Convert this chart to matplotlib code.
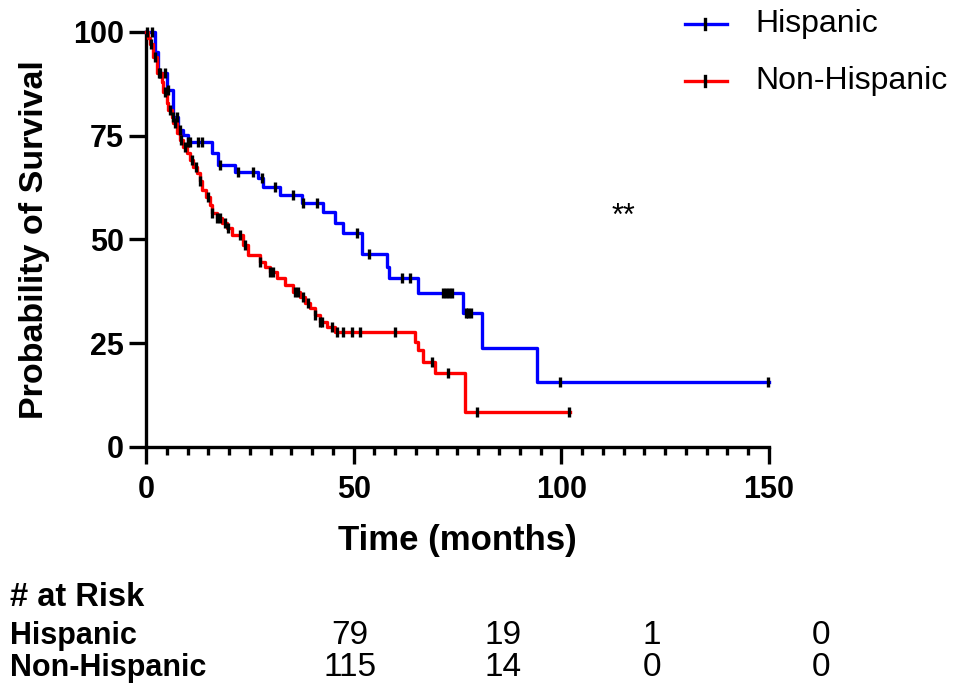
import numpy as np
import matplotlib.pyplot as plt
from matplotlib.lines import Line2D

plt.rcParams['font.family'] = ['Liberation Sans', 'DejaVu Sans']

# Kaplan-Meier step data (time in months, survival in %)
hisp_t = [0, 2.2, 2.9, 5.1, 6.6, 7.7, 8.9, 10.0, 15.8, 17.3, 21.4, 27.0, 28.2, 32.3,
          37.5, 42.6, 45.5, 47.5, 52.0, 58.0, 58.5, 65.5, 76.3, 80.9, 94.1]
hisp_s = [100, 95.3, 90.1, 86, 79.5, 76.4, 75.2, 73.6, 70.8, 68, 66.3, 64.8, 62.7, 60.7,
          58.8, 56.7, 54, 51.6, 46.5, 43.4, 40.7, 37.1, 32.3, 23.9, 15.7]
hisp_end = 150
hisp_cens = [1.4, 3.4, 4.6, 5.4, 6.6, 7.4, 8.2, 10.2, 10.6, 12.6, 13.4, 17.8, 22.2, 25.8,
             27.9, 31.1, 35.5, 37.8, 41.1, 50.8, 53.7, 61.6, 63.6, 71.5, 72.2, 72.9,
             73.6, 77.0, 77.6, 78.3, 99.7, 149.8]

nonh_t = [0, 0.5, 1.0, 1.7, 2.6, 3.9, 4.1, 5.1, 5.3, 6.3, 6.5, 7.5, 8.2, 8.9, 9.9, 10.6,
          11.3, 12.3, 13.0, 13.5, 14.5, 15.4, 15.9, 17.1, 18.3, 19.5, 20.7, 23.4, 24.6,
          27.4, 28.7, 29.9, 31.5, 33.5, 35.4, 37.1, 38.3, 39.5, 40.7, 41.9, 43.6, 45.5,
          64.8, 65.5, 66.7, 69.6, 76.8]
nonh_s = [100, 98.5, 97, 94, 90, 88, 85.5, 83, 81.2, 79.5, 78, 75.7, 74, 72.3, 70.8, 69.2,
          67.5, 66, 64, 62, 60.2, 58.3, 56.4, 55.2, 54, 52.8, 51.1, 48.7, 46.3,
          44.6, 43.4, 42.2, 40.7, 39, 37.3, 36.1, 34.7, 33.5, 31.8, 30.1, 28.9, 27.7,
          25.3, 23.4, 20.5, 17.8, 8.4]
nonh_end = 102
nonh_cens = [0.3, 1.3, 2.2, 3.2, 4.5, 5.7, 7.0, 8.5, 9.5, 11.0, 12.0, 13.0, 15.0, 15.9,
             17.1, 17.8, 19.0, 19.8, 22.6, 23.8, 27.4, 29.9, 30.6, 35.9, 36.6, 37.8,
             39.0, 40.7, 41.9, 42.4, 44.8, 46.0, 47.4, 49.6, 51.5, 60.0, 68.9, 72.7,
             79.7, 101.9]

groups = ['Hispanic', 'Non-Hispanic']
colors = ['#0000ff', '#ff0000']
risk_times = [0, 50, 100, 150]
risk_hisp = ['79', '19', '1', '0']
risk_nonh = ['115', '14', '0', '0']

fig = plt.figure(figsize=(9.54, 6.85), dpi=100)
ax = fig.add_axes([146 / 954, 1 - 447 / 685, 623 / 954, 415 / 685])


def km(ax, t, s, end, cens, color):
    tt = list(t) + [end]
    ss = list(s) + [s[-1]]
    ax.step(tt, ss, where='post', color=color, lw=2.4, clip_on=False, zorder=3)
    idx = np.searchsorted(np.array(t), np.array(cens), side='right') - 1
    cy = np.array(s)[idx]
    ax.plot(cens, cy, ls='none', marker='|', ms=7, mew=2.4, color='black',
            clip_on=False, zorder=4)


km(ax, hisp_t, hisp_s, hisp_end, hisp_cens, colors[0])
km(ax, nonh_t, nonh_s, nonh_end, nonh_cens, colors[1])

ax.set_xlim(0, 150)
ax.set_ylim(0, 100)
ax.set_xticks([0, 50, 100, 150])
ax.set_xticks(np.arange(0, 151, 5), minor=True)
ax.set_yticks([0, 25, 50, 75, 100])
for sp in ['top', 'right']:
    ax.spines[sp].set_visible(False)
for sp in ['left', 'bottom']:
    ax.spines[sp].set_linewidth(2.4)
ax.tick_params(axis='both', which='major', length=12, width=2.4, labelsize=22)
ax.tick_params(axis='y', which='major', pad=4)
ax.tick_params(axis='x', which='major', pad=8)
ax.tick_params(axis='x', which='minor', length=6, width=2.4)
for lab in ax.get_xticklabels() + ax.get_yticklabels():
    lab.set_fontweight('bold')

ax.set_xlabel('Time (months)', fontsize=25, fontweight='bold')
ax.set_ylabel('Probability of Survival', fontsize=24.5, fontweight='bold')
ax.xaxis.set_label_coords(0.5, -0.186)
ax.yaxis.set_label_coords(-0.154, 0.5)

ax.text(115, 53.5, '**', fontsize=22, ha='center', va='baseline')

# legend
for i, (g, c) in enumerate(zip(groups, colors)):
    yy = 1 - (24 + 57 * i) / 685
    fig.add_artist(Line2D([685 / 954, 727 / 954], [yy, yy], color=c, lw=2.4))
    fig.add_artist(Line2D([705 / 954, 705 / 954], [yy - 5 / 685, yy + 5 / 685],
                          color='black', lw=2.4))
    fig.text(755 / 954, yy, g, fontsize=23, va='center', ha='left')

# number at risk table
fig.text(10 / 954, 1 - 598 / 685, '# at Risk', fontsize=23.5, fontweight='bold', va='center')
fig.text(10 / 954, 1 - 636 / 685, groups[0], fontsize=22, fontweight='bold', va='center')
fig.text(10 / 954, 1 - 668 / 685, groups[1], fontsize=22, fontweight='bold', va='center')
xcols = [350, 503, 652, 821]
num_font = ['Liberation Sans Narrow', 'Liberation Sans', 'DejaVu Sans']
for x, a, b in zip(xcols, risk_hisp, risk_nonh):
    fig.text(x / 954, 1 - 636 / 685, a, fontsize=24, ha='center', va='center', family=num_font)
    fig.text(x / 954, 1 - 668 / 685, b, fontsize=24, ha='center', va='center', family=num_font)

fig.savefig('out.png', dpi=100)
